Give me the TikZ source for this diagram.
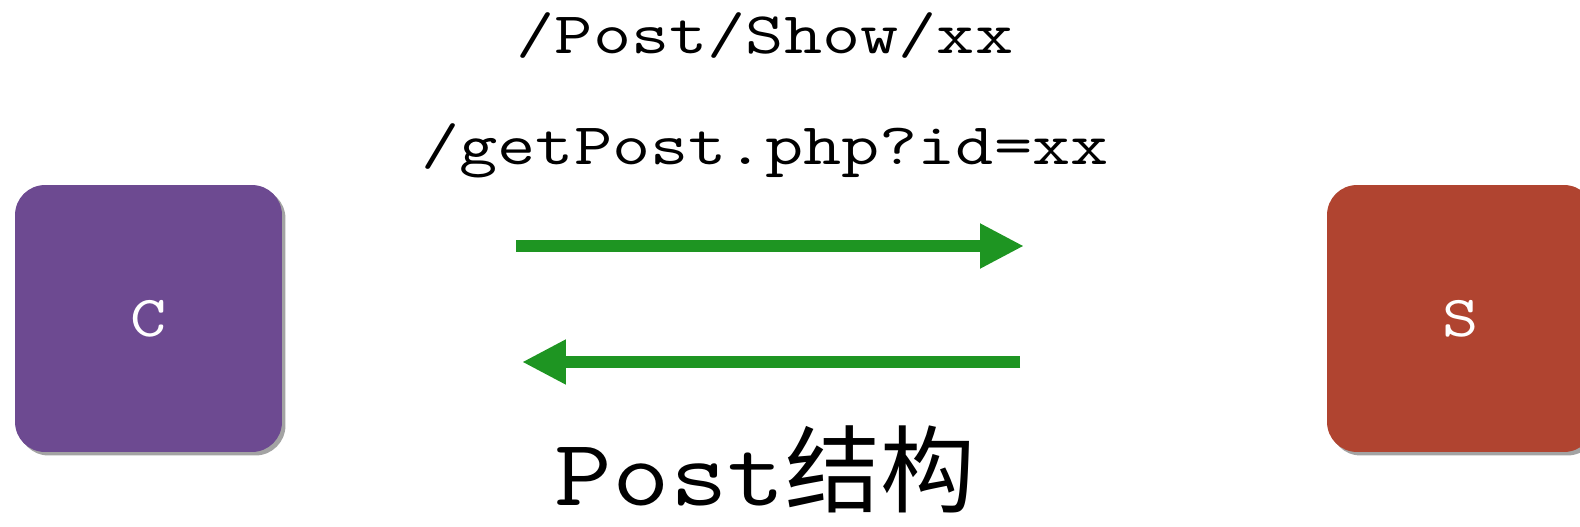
\documentclass[tikz,border=0pt]{standalone}
\usepackage{fontspec}
\usepackage{graphicx}
\newfontfamily\cjkfont{Noto Sans CJK SC}
\usetikzlibrary{arrows.meta,shadows,positioning}
\definecolor{clientpurple}{HTML}{6D4A91}
\definecolor{serverred}{HTML}{B04430}
\definecolor{linkgreen}{HTML}{1E9522}
% courier-like wide typewriter text
\newcommand{\widett}[2][1.26]{\scalebox{#1}[1]{\ttfamily #2}}

\begin{document}
\begin{tikzpicture}[
    x=0.02cm, y=-0.02cm,
    peer/.style={
        rounded corners=0.6cm,
        minimum width=5.34cm,
        minimum height=5.34cm,
        text=white,
        font=\fontsize{33}{36}\selectfont,
        drop shadow={shadow xshift=0.07cm, shadow yshift=-0.07cm, opacity=0.45, fill=black!80}
    },
    call/.style={
        draw=linkgreen,
        line width=0.23cm,
        -{Triangle[length=0.88cm, width=0.84cm]}
    },
    url/.style={anchor=base, inner sep=0pt, font=\fontsize{33.5}{36}\selectfont}
]
    \useasboundingbox (0,0) rectangle (1580,527);

    % the two ends
    \node[peer, fill=clientpurple] (client) at (148.5,318.5) {\widett[1.21]{C}};
    \node[peer, fill=serverred] (server) at (1460.5,318.5) {\widett[1.21]{S}};

    % request urls
    \node[url] (showurl) at (765,54) {\widett{/Post/Show/xx}};
    \node[url] (geturl) at (765,165) {\widett{/getPost.php?id=xx}};

    % request and response
    \coordinate (reqstart) at (516,246);
    \coordinate (reqend) at (1024,246);
    \coordinate (respstart) at (1020,362);
    \coordinate (respend) at (522,362);

    \draw[call] (reqstart) -- (reqend);
    \draw[call] (respstart) -- (respend);

    \node[anchor=base, inner sep=0pt, font=\fontsize{54}{60}\selectfont] (title) at (765,505)
        {\widett[1.18]{Post}{\cjkfont 结构}};
\end{tikzpicture}
\end{document}
